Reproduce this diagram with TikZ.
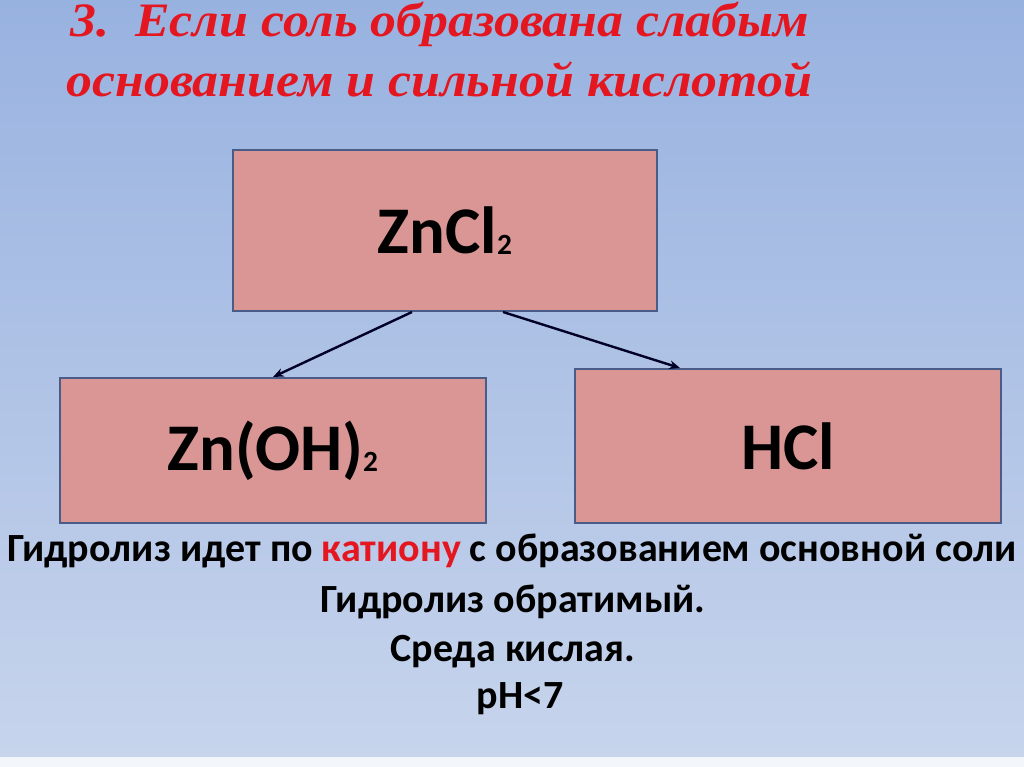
\documentclass[tikz,border=0pt]{standalone}
\usepackage{fontspec}
\setmainfont{Carlito}
\newfontfamily\titlefont[FakeStretch=1.08]{Liberation Serif}
\usetikzlibrary{arrows.meta,calc}

\definecolor{bgtop}{RGB}{152,178,224}
\definecolor{bgbot}{RGB}{199,212,236}
\definecolor{bgstrip}{RGB}{243,246,251}
\definecolor{boxfill}{RGB}{217,150,148}
\definecolor{boxline}{RGB}{72,92,135}
\definecolor{titlered}{RGB}{228,22,32}

\newcommand\chemsub[1]{\raisebox{-1pt}{\fontsize{22}{24}\selectfont #1}}

\tikzset{every picture/.style={line width=0.75pt}}

\begin{document}
\begin{tikzpicture}[
            x=0.75pt,
            y=0.75pt,
            yscale=-1,
            xscale=1,
            saltbox/.style={draw=boxline,fill=boxfill,line width=1.5pt,inner sep=0pt,
                font=\fontsize{50}{60}\selectfont\bfseries},
            arr/.style={-{Stealth[length=8pt,width=6.5pt]},line width=1.8pt,draw=black!85!blue},
            title/.style={text=titlered,anchor=base west,inner sep=0pt,
                font=\titlefont\fontsize{36}{42}\selectfont\bfseries\itshape},
            note/.style={anchor=base,inner sep=0pt,font=\fontsize{30}{36}\selectfont\bfseries}
        ]
            \useasboundingbox (0,0) rectangle (1024,767);
            \shade [top color=bgtop,bottom color=bgbot] (0,0) rectangle (1024,757);
            \fill [bgstrip] (0,757) rectangle (1024,767);

            % title
            \node [title] (head1) at (70,37) {3.\ \ Если соль образована слабым};
            \node [title] (head2) at (66,96) {основанием и сильной кислотой};

            % salt and its products
            \node [saltbox,minimum width=318pt,minimum height=120.75pt] (salt) at (445,230.5) {ZnCl\chemsub{2}};
            \node [saltbox,minimum width=319.5pt,minimum height=108.75pt] (base) at (273,450.5) {Zn(OH)\chemsub{2}};
            \node [saltbox,minimum width=319.5pt,minimum height=115.5pt] (acid) at (788,446) {HCl};

            \draw [arr] ($(salt.south)+(-33,0)$) -- (base.north);
            \draw [arr] ($(salt.south)+(58,0)$) -- ($(acid.north)+(-108,0)$);

            % conclusions
            \node [note] (line1) at (512,561) {Гидролиз идет по \textcolor{titlered}{катиону} с образованием основной соли};
            \node [note] (line2) at (513,612) {Гидролиз обратимый.};
            \node [note] (line3) at (513,661) {Среда кислая.};
            \node [note] (line4) at (520,708) {pH<7};
        \end{tikzpicture}
\end{document}
